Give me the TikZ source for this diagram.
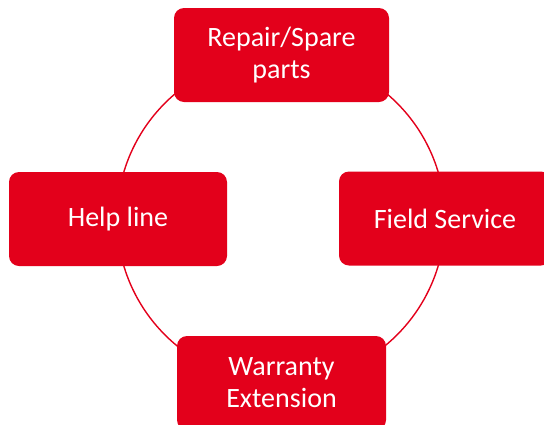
\documentclass[tikz,border=0pt]{standalone}
\usepackage{fontspec}
\setmainfont{Carlito}
\usepackage{xcolor}
\definecolor{brandred}{HTML}{E3001B}
\usepackage{tikz}

\begin{document}
\begin{tikzpicture}[
  x=1pt, y=-1pt,
  svc/.style={fill=brandred, draw=none, rounded corners=10pt, align=center,
              text=white, inner sep=0pt, minimum width=212pt, minimum height=94pt,
              font=\fontsize{28}{32}\selectfont},
  ring/.style={draw=brandred, line width=1.4pt}
]
\useasboundingbox (0,0) rectangle (544,424);

% ---- Ring behind the boxes ----
\coordinate (hub) at (281,219);
\draw[ring] (hub) circle[radius=164pt];

% ---- Service boxes ----
\node[svc, minimum width=215pt] (repair) at (281.5,55) {Repair/Spare\\parts};
\node[svc, minimum width=218pt] (help) at (118,219) {Help line};
\node[svc] (field) at (445,218.5) {Field Service};
\node[svc, minimum width=209pt] (warranty) at (281.5,383) {Warranty\\Extension};
\end{tikzpicture}
\end{document}
